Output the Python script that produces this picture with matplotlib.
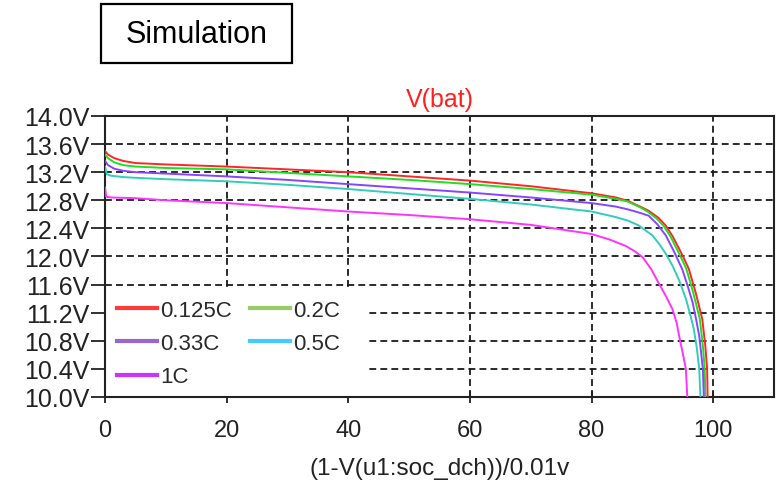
import matplotlib
matplotlib.use("Agg")
import matplotlib.pyplot as plt
from matplotlib.lines import Line2D
from matplotlib.patches import Rectangle

plt.rcParams['font.family'] = ['Liberation Sans', 'DejaVu Sans']

# discharge curves: x = depth of discharge (%), v = battery voltage (V)
x_0125 = [0, 0.5, 1.5, 3, 5, 10, 20, 30, 40, 50, 60, 70, 80, 84, 86, 88, 89.4,
          91, 92.2, 93.3, 94.4, 95.2, 96.0, 97.1, 98.2, 98.7, 99.0, 99.1]
v_0125 = [13.50, 13.45, 13.40, 13.36, 13.33, 13.31, 13.28, 13.24, 13.20, 13.14,
          13.08, 13.00, 12.90, 12.84, 12.79, 12.71, 12.65, 12.55, 12.44, 12.29,
          12.11, 11.97, 11.82, 11.49, 11.11, 10.73, 10.40, 9.90]

x_02 = [0, 0.5, 1.5, 3, 5, 10, 20, 30, 40, 50, 60, 70, 80, 84, 86, 88, 89.2,
        90.7, 91.9, 93.0, 94.0, 94.8, 95.6, 96.7, 97.8, 98.3, 98.6, 98.75]
v_02 = [13.45, 13.40, 13.34, 13.30, 13.28, 13.26, 13.24, 13.19, 13.14, 13.09,
        13.03, 12.96, 12.88, 12.82, 12.78, 12.70, 12.64, 12.54, 12.43, 12.28,
        12.11, 11.97, 11.82, 11.49, 11.11, 10.73, 10.40, 9.90]

x_033 = [0, 0.5, 1.5, 3, 5, 10, 20, 30, 40, 50, 60, 70, 80, 84, 86, 88, 89.4,
         90.8, 92.2, 93.5, 94.9, 95.8, 96.6, 97.2, 97.7, 98.3, 98.5]
v_033 = [13.36, 13.30, 13.25, 13.22, 13.20, 13.18, 13.14, 13.09, 13.03, 12.97,
         12.91, 12.84, 12.76, 12.71, 12.67, 12.62, 12.58, 12.46, 12.30, 12.08,
         11.82, 11.58, 11.35, 11.10, 10.87, 10.40, 9.90]

x_05 = [0, 0.3, 1, 3, 5, 10, 20, 30, 40, 50, 60, 70, 80, 84, 86, 87.8, 90,
        91.1, 92.2, 93.3, 94.4, 95.5, 96.2, 96.8, 97.3, 97.7, 97.95]
v_05 = [13.28, 13.17, 13.15, 13.13, 13.12, 13.10, 13.07, 13.02, 12.96, 12.89,
        12.82, 12.74, 12.64, 12.56, 12.51, 12.44, 12.30, 12.18, 12.04, 11.87,
        11.66, 11.40, 11.18, 10.97, 10.70, 10.40, 9.90]

x_1 = [0, 0.2, 1, 5, 10, 20, 30, 40, 50, 60, 70, 80, 83, 85.6, 87, 88.4, 89.8,
       91.1, 92.2, 93.3, 94.0, 94.6, 95.1, 95.5, 95.8]
v_1 = [12.98, 12.85, 12.84, 12.83, 12.80, 12.76, 12.70, 12.64, 12.59, 12.53,
       12.45, 12.32, 12.24, 12.15, 12.08, 11.99, 11.82, 11.61, 11.44, 11.25,
       11.05, 10.78, 10.58, 10.40, 9.90]

series = [
    ('0.125C', x_0125, v_0125, '#ff2626', '#ff3a3a'),
    ('0.2C', x_02, v_02, '#22dd22', '#99cc66'),
    ('0.33C', x_033, v_033, '#8844ff', '#9966cc'),
    ('0.5C', x_05, v_05, '#33ccbb', '#44ccff'),
    ('1C', x_1, v_1, '#ff33ff', '#cc33ff'),
]

y_ticks = [10.0 + 0.4 * i for i in range(11)]
x_ticks = [0, 20, 40, 60, 80, 100]

fig = plt.figure(figsize=(7.78, 4.81), dpi=100)
ax = fig.add_axes([0.1350, 0.1726, 0.8599, 0.5842])

for name, xs, vs, c, _ in series:
    ax.plot(xs, vs, color=c, lw=1.4, zorder=3)

ax.set_xlim(0, 110)
ax.set_ylim(10, 14)
ax.set_yticks(y_ticks)
ax.set_yticklabels([f'{t:.1f}V' for t in y_ticks], fontsize=18, color='#222222')
ax.set_xticks(x_ticks)
ax.set_xticklabels([str(t) for t in x_ticks], fontsize=17, color='#222222')
ax.tick_params(axis='y', direction='out', length=10, width=1.3, pad=1, color='#222222')
ax.tick_params(axis='x', direction='inout', length=9, width=1.3, pad=11, color='#222222')
ax.grid(True, color='#1a1a1a', linestyle=(0, (3.8, 2.3)), linewidth=1.3)
for s in ax.spines.values():
    s.set_color('#222222')
    s.set_linewidth(1.5)

ax.set_title('V(bat)', color='#ff2020', fontsize=18, pad=7)
ax.set_xlabel('(1-V(u1:soc_dch))/0.01v', fontsize=17.5, color='#222222', labelpad=12)

# white area behind the legend hides the grid
ax.add_patch(Rectangle((0, 0), 0.39, 0.391, transform=ax.transAxes,
                       facecolor='white', edgecolor='none', zorder=1.8))

handles = {name: Line2D([], [], color=lc, lw=3) for name, _, _, _, lc in series}
order = ['0.125C', '0.33C', '1C', '0.2C', '0.5C']
leg = ax.legend([handles[n] for n in order], order, ncol=2, frameon=False,
                loc='upper left', bbox_to_anchor=(0.0175, 0.345),
                borderaxespad=0, borderpad=0, fontsize=16,
                handlelength=1.8, handletextpad=0.15, columnspacing=0.8,
                labelspacing=0.55)
for t in leg.get_texts():
    t.set_color('#2a2a2a')

fig.patches.append(Rectangle((0.1298, 0.867), 0.2455, 0.1227, transform=fig.transFigure,
                             facecolor='white', edgecolor='black', lw=1.6))
fig.text(0.2526, 0.927, 'Simulation', fontsize=22, ha='center', va='center')

fig.savefig('out.png', dpi=100)
